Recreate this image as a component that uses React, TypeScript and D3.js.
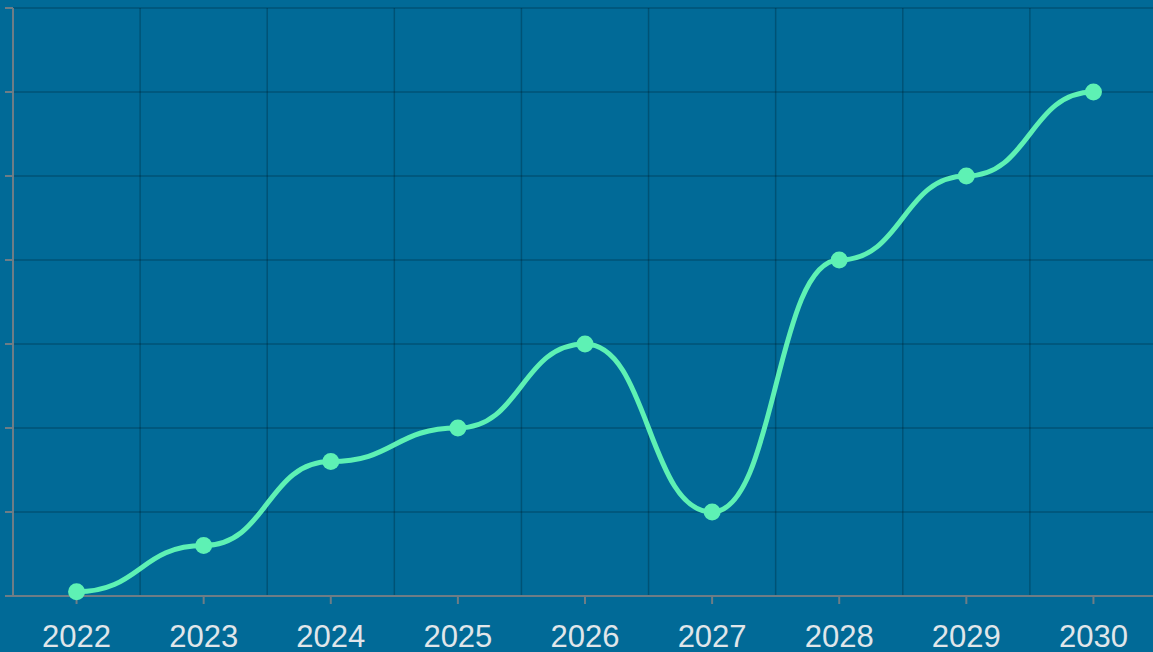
import React from "react";
import * as d3 from "d3";

const years = ["2022", "2023", "2024", "2025", "2026", "2027", "2028", "2029", "2030"];
const values = [0.5, 6, 16, 20, 30, 10, 40, 50, 60];
const yTicks = [0, 10, 20, 30, 40, 50, 60, 70];

const W = 1153;
const H = 652;
const left = 13;
const right = 1157;
const top = 8;
const bottom = 596;

export default function App() {
  const x = d3.scalePoint<string>().domain(years).range([left, right]).padding(0.5);
  const band = d3.scaleBand<string>().domain(years).range([left, right]);
  const y = d3.scaleLinear().domain([0, 70]).range([bottom, top]);
  const line = d3
    .line<number>()
    .x((_, i) => x(years[i]) as number)
    .y((d) => y(d))
    .curve(d3.curveBumpX);

  return (
    <div style={{ position: "fixed", left: 0, top: 0, width: W, height: H, overflow: "hidden" }}>
      <svg width={W} height={H} style={{ display: "block", background: "#016a97" }}>
        <rect x={0} y={0} width={W} height={H} fill="#016a97" />
        {yTicks.map((t) => (
          <line key={"gy" + t} x1={left} x2={W} y1={y(t)} y2={y(t)} stroke="rgba(0,0,0,0.22)" strokeWidth={1.5} />
        ))}
        {years.slice(1).map((yr) => (
          <line key={"gx" + yr} x1={band(yr)} x2={band(yr)} y1={top} y2={bottom} stroke="rgba(0,0,0,0.22)" strokeWidth={1.5} />
        ))}
        {/* y axis */}
        <line x1={left} x2={left} y1={top} y2={bottom} stroke="#6e7d86" strokeWidth={2} />
        {yTicks.map((t) => (
          <line key={"ty" + t} x1={left - 8} x2={left} y1={y(t)} y2={y(t)} stroke="#6e7d86" strokeWidth={2} />
        ))}
        {/* x axis */}
        <line x1={5} x2={W} y1={bottom} y2={bottom} stroke="#6e7d86" strokeWidth={2} />
        {years.map((yr) => (
          <g key={"tx" + yr}>
            <line x1={x(yr)} x2={x(yr)} y1={bottom} y2={bottom + 8} stroke="#6e7d86" strokeWidth={2} />
            <text
              x={x(yr)}
              y={647}
              textAnchor="middle"
              fill="#e0e6ea"
              fontFamily="'Liberation Sans', Arial, sans-serif"
              fontSize={31}
            >
              {yr}
            </text>
          </g>
        ))}
        <path d={line(values) || ""} fill="none" stroke="#5ef1b4" strokeWidth={5} strokeLinecap="round" />
        {values.map((v, i) => (
          <circle key={"p" + i} cx={x(years[i]) as number} cy={y(v)} r={8.5} fill="#5ef1b4" />
        ))}
      </svg>
    </div>
  );
}
